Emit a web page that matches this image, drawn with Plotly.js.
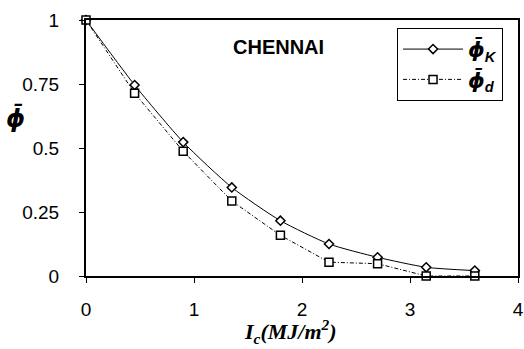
<!DOCTYPE html>
<html><head><meta charset="utf-8">
<script src="https://cdn.plot.ly/plotly-3.0.1.min.js"></script>
<style>html,body{margin:0;padding:0;background:#fff}#c{width:524px;height:349px}</style>
</head><body><div id="c"></div>
<script>
var xValues = [0, 0.45, 0.9, 1.35, 1.8, 2.25, 2.7, 3.15, 3.6];
var phiK = [1, 0.746, 0.523, 0.346, 0.216, 0.125, 0.073, 0.034, 0.021];
var phiD = [1, 0.714, 0.487, 0.293, 0.159, 0.054, 0.048, 0.0, 0.0];
var xTicks = [0, 1, 2, 3, 4];
var yTicks = [0, 0.25, 0.5, 0.75, 1];
var yTickText = ["0", "0.25", "0.5", "0.75", "1"];
var PHI = '<span style="font-family:DejaVu Sans">ϕ̄</span>';

var traces = [
  {x: xValues, y: phiK, type: 'scatter', mode: 'lines+markers', name: '<b><i>' + PHI + '<sub>K</sub></i></b>',
   line: {color: '#000', width: 1, shape: 'spline', smoothing: 0.6},
   marker: {symbol: 'diamond', size: 7, color: '#fff', line: {color: '#000', width: 1.5}},
   cliponaxis: false},
  {x: xValues, y: phiD, type: 'scatter', mode: 'lines+markers', name: '<b><i>' + PHI + '<sub>d</sub></i></b>',
   line: {color: '#000', width: 1, dash: '4px,2px,1px,2px'},
   marker: {symbol: 'square', size: 8, color: '#fff', line: {color: '#000', width: 1.5}},
   cliponaxis: false}
];

var layout = {
  width: 524, height: 349,
  margin: {l: 86, r: 6, t: 20, b: 73},
  paper_bgcolor: '#fff', plot_bgcolor: '#fff',
  font: {family: 'Liberation Sans, Arial, sans-serif', color: '#000', size: 19},
  showlegend: true,
  legend: {x: 0.72, y: 0.969, xanchor: 'left', yanchor: 'top', bordercolor: '#000', borderwidth: 1,
           bgcolor: '#fff', font: {size: 21, family: 'Liberation Sans, Arial, sans-serif'},
           tracegroupgap: 0, itemwidth: 60},
  xaxis: {range: [0, 4], tickvals: xTicks, ticktext: xTicks.map(String), showgrid: false, zeroline: false,
          showline: true, linecolor: '#000', linewidth: 2, mirror: true,
          ticks: 'outside', ticklen: 5, tickcolor: '#000', tickwidth: 1, ticklabelstandoff: 10},
  yaxis: {range: [0, 1], tickvals: yTicks, ticktext: yTickText, showgrid: false, zeroline: false,
          showline: true, linecolor: '#000', linewidth: 2, mirror: true,
          ticks: 'outside', ticklen: 5, tickcolor: '#000', tickwidth: 1, ticklabelstandoff: 16},
  annotations: [
    {text: '<b>CHENNAI</b>', xref: 'paper', yref: 'paper', x: (278-86)/432, y: (276-47)/256,
     xanchor: 'center', yanchor: 'middle',
     showarrow: false, font: {size: 20, family: 'Liberation Sans, Arial, sans-serif'}},
    {text: '<b><i>I<sub>c</sub>(MJ/m<sup>2</sup>)</i></b>', xref: 'paper', yref: 'paper',
     x: (290-86)/432, y: -(331-276)/256, xanchor: 'center', yanchor: 'middle', showarrow: false,
     font: {size: 22, family: 'Liberation Serif, Times New Roman, serif'}},
    {text: '<b><i>' + PHI + '</i></b>', xref: 'paper', yref: 'paper', x: -(86-15)/432, y: (276-118)/256,
     xanchor: 'center', yanchor: 'middle',
     showarrow: false, font: {size: 24, family: 'DejaVu Sans, sans-serif'}}
  ]
};
Plotly.newPlot('c', traces, layout, {displayModeBar: false, staticPlot: true});
</script></body></html>
